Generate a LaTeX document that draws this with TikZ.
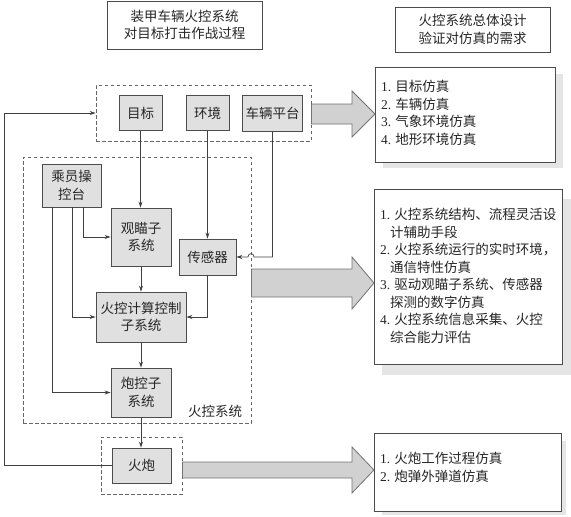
\documentclass[tikz,border=0pt]{standalone}
\usepackage{fontspec}
\setmainfont{Liberation Serif}
\newfontfamily\cjk{Noto Sans CJK SC}
\usetikzlibrary{arrows.meta}
\newcommand\numlbl[1]{{\rmfamily #1}}
\begin{document}
\begin{tikzpicture}[x=1pt,y=-1pt,
  every node/.style={font=\cjk\fontsize{13.5}{17.5}\selectfont, text=black!85},
  graybox/.style={draw=black!70, fill=black!12, line width=0.9pt, inner sep=0pt, align=center},
  titlebox/.style={draw=black!70, fill=white, line width=0.9pt, inner sep=0pt, align=center},
  dbox/.style={draw=black!60, line width=0.8pt, dash pattern=on 3.5pt off 2.5pt, inner sep=0pt},
  conn/.style={draw=black!75, line width=0.7pt, -{Stealth[length=6pt,width=4pt]}},
  plain/.style={draw=black!75, line width=0.7pt},
  bigarrow/.style={fill=black!18, draw=black!55, line width=0.8pt, line join=miter},
  shadowbox/.style={fill=black!10, draw=none},
  listbox/.style={draw=black!70, fill=white, line width=0.9pt},
  listtext/.style={align=left, anchor=north west, inner sep=0pt}
]
\useasboundingbox (0,0) rectangle (571,517);

% title boxes
\node[titlebox, minimum width=155pt, minimum height=48pt] (t1) at (184.5,25) {装甲车辆火控系统\\对目标打击作战过程};
\node[titlebox, minimum width=155pt, minimum height=45pt] (t2) at (472.5,29.5) {火控系统总体设计\\验证对仿真的需求};

% dashed groups
\node[dbox, minimum width=215pt, minimum height=56pt] (env) at (203.5,113) {};
\node[dbox, minimum width=228pt, minimum height=266pt] (fcs) at (137,290) {};
\node[dbox, minimum width=81pt, minimum height=57pt] (gund) at (141.5,465.5) {};
\node (fcslbl) at (215,411) {火控系统};

% boxes
\node[graybox, minimum width=43pt, minimum height=35pt] (mb) at (140.5,113) {目标};
\node[graybox, minimum width=43pt, minimum height=35pt] (hj) at (207.5,113) {环境};
\node[graybox, minimum width=60pt, minimum height=36pt] (cl) at (272.5,113) {车辆平台};
\node[graybox, minimum width=59pt, minimum height=43pt] (cy) at (71.5,185.5) {乘员操\\控台};
\node[graybox, minimum width=60pt, minimum height=58pt] (gm) at (141,237) {观瞄子\\系统};
\node[graybox, minimum width=57pt, minimum height=36pt] (cg) at (207.5,257) {传感器};
\node[graybox, minimum width=90pt, minimum height=50pt] (hk) at (141,317) {火控计算控制\\子系统};
\node[graybox, minimum width=60pt, minimum height=49pt] (pk) at (141,392.5) {炮控子\\系统};
\node[graybox, minimum width=59pt, minimum height=35pt] (hp) at (141.5,465.5) {火炮};

% connectors
\draw[conn] (mb.south) -- (mb.south |- gm.north);
\draw[conn] (hj.south) -- (hj.south |- cg.north);
\coordinate (clc) at (cl.south |- cg.east);
\coordinate (hopA) at (254,257);
\coordinate (hopB) at (248,257);
\draw[conn] (cl.south) -- (clc) -- (hopA) .. controls (254,252.5) and (248,252.5) .. (hopB) -- (cg.east);
\draw[conn] ([xshift=-19.5pt]cy.south) -- ([xshift=-19.5pt]cy.south |- pk.west) -- (pk.west);
\draw[conn] ([xshift=0.5pt]cy.south) -- ([xshift=0.5pt]cy.south |- hk.west) -- (hk.west);
\draw[conn] ([xshift=11.5pt]cy.south) -- ([xshift=11.5pt]cy.south |- gm.west) -- (gm.west);
\draw[conn] (gm.south) -- (gm.south |- hk.north);
\draw[conn] (cg.south) -- (cg.south |- hk.east) -- (hk.east);
\draw[conn] (hk.south) -- (hk.south |- pk.north);
\draw[conn] (pk.south) -- (pk.south |- hp.north);
\coordinate (fb1) at (4,465.5);
\coordinate (fb2) at (4,113);
\draw[conn] (hp.west) -- (fb1) -- (fb2) -- (env.west);

% shadows and list boxes
\fill[shadowbox] (383,74) rectangle (563,168);
\node[listbox, minimum width=180pt, minimum height=95pt, anchor=north west] (r1) at (375,67) {};
\fill[shadowbox] (382,199) rectangle (571,375);
\node[listbox, minimum width=188pt, minimum height=175pt, anchor=north west] (r2) at (374,189) {};
\fill[shadowbox] (382,441) rectangle (566,515);
\node[listbox, minimum width=187pt, minimum height=78pt, anchor=north west] (r3) at (374,433) {};

\node[listtext] (r1t) at (381,80) {\numlbl{1.} 目标仿真\\\numlbl{2.} 车辆仿真\\\numlbl{3.} 气象环境仿真\\\numlbl{4.} 地形环境仿真};
\node[listtext] (r2t) at (380,208) {\numlbl{1.} 火控系统结构、流程灵活设\\\hspace*{10pt}计辅助手段\\\numlbl{2.} 火控系统运行的实时环境，\\\hspace*{10pt}通信特性仿真\\\numlbl{3.} 驱动观瞄子系统、传感器\\\hspace*{10pt}探测的数字仿真\\\numlbl{4.} 火控系统信息采集、火控\\\hspace*{10pt}综合能力评估};
\node[listtext] (r3t) at (380,452) {\numlbl{1.} 火炮工作过程仿真\\\numlbl{2.} 炮弹外弹道仿真};

% big arrows
\draw[bigarrow] (env.east |- 0,104) -- (352,104) -- (352,91) -- (r1.west |- 0,114) -- (352,137) -- (352,124) -- (env.east |- 0,124) -- cycle;
\draw[bigarrow] (fcs.east |- 0,269) -- (352,269) -- (352,257) -- (r2.west |- 0,283) -- (352,309) -- (352,297) -- (fcs.east |- 0,297) -- cycle;
\draw[bigarrow] (gund.east |- 0,462) -- (352,462) -- (352,447) -- (r3.west |- 0,470) -- (352,493) -- (352,478) -- (gund.east |- 0,478) -- cycle;
\end{tikzpicture}
\end{document}
